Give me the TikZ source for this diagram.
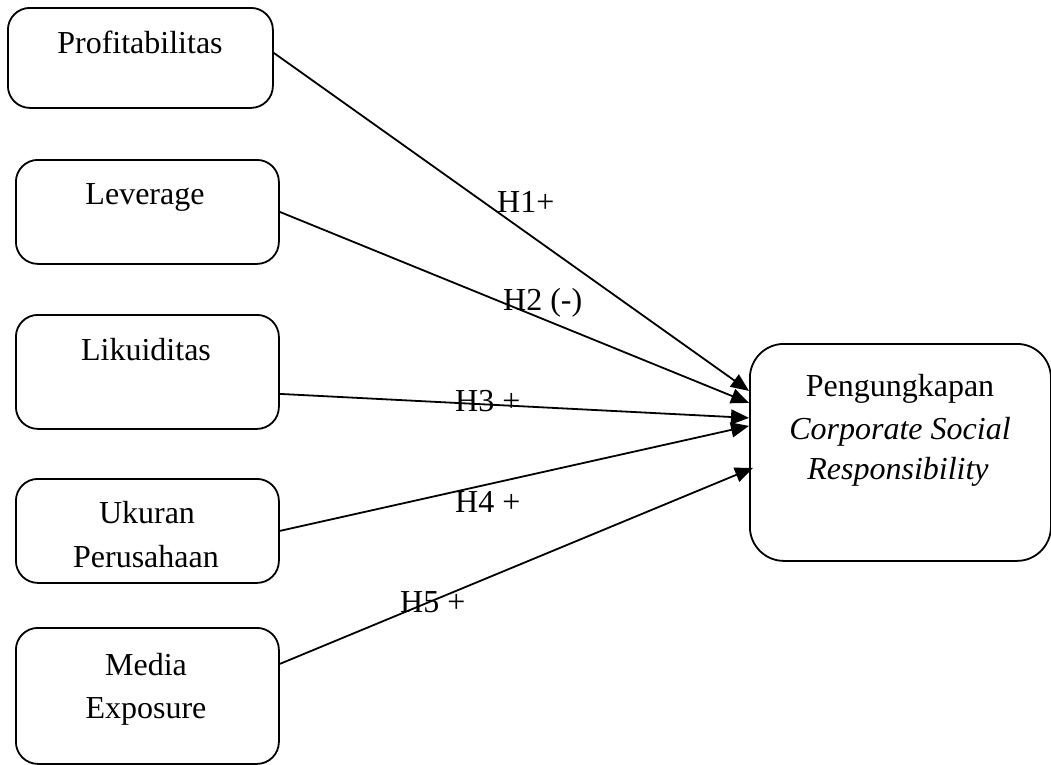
\documentclass[tikz,border=0pt]{standalone}
\usepackage{fontspec}
\setmainfont{Liberation Serif}
\usetikzlibrary{arrows.meta}
\begin{document}
\begin{tikzpicture}[x=1pt,y=-1pt,
  varbox/.style={draw, line width=1.8pt, rounded corners=22pt, anchor=north west, inner sep=0pt},
  txt/.style={anchor=base, inner sep=0pt, font=\fontsize{32}{43}\selectfont},
  hyp/.style={anchor=base west, inner sep=0pt, font=\fontsize{32}{43}\selectfont},
  link/.style={line width=1.8pt, -{Triangle[length=18pt,width=15pt]}}]
\useasboundingbox (0,0) rectangle (1051,764);
% boxes
\node[varbox, minimum width=265pt, minimum height=100pt] (p) at (7,7) {};
\node[varbox, minimum width=263pt, minimum height=104pt] (l) at (15,159) {};
\node[varbox, minimum width=263pt, minimum height=114pt] (k) at (15,314) {};
\node[varbox, minimum width=263pt, minimum height=104pt] (u) at (15,478) {};
\node[varbox, minimum width=263pt, minimum height=136pt] (m) at (15,627) {};
\node[varbox, rounded corners=34pt, minimum width=301pt, minimum height=217pt] (cs) at (749,343) {};
% texts
\node[txt] (pt) at (140,53) {Profitabilitas};
\node[txt] (lt) at (145,204) {Leverage};
\node[txt] (kt) at (146,360) {Likuiditas};
\node[txt] (ut1) at (147,523) {Ukuran};
\node[txt] (ut2) at (146,567) {Perusahaan};
\node[txt] (mt1) at (146,675) {Media};
\node[txt] (mt2) at (146,718) {Exposure};
\node[txt] (cst1) at (900,396) {Pengungkapan};
\node[txt] (cst2) at (900,439) {\itshape Corporate Social};
\node[txt] (cst3) at (898,479) {\itshape Responsibility};
% arrow endpoints
\coordinate (s1) at ([yshift=5pt]p.east);
\coordinate (s3) at ([yshift=-22pt]k.east);
\coordinate (s5) at ([yshift=32pt]m.east);
\coordinate (t1) at ([yshift=61.5pt]cs.west);
\coordinate (t2) at ([yshift=49.5pt]cs.west);
\coordinate (t3) at ([yshift=34.5pt]cs.west);
\coordinate (t4) at ([yshift=26.5pt]cs.west);
\coordinate (t5) at ([xshift=4pt,yshift=-15.5pt]cs.west);
% connectors
\draw[link] (s1) -- (t1);
\draw[link] (l.east) -- (t2);
\draw[link] (s3) -- (t3);
\draw[link] (u.east) -- (t4);
\draw[link] (s5) -- (t5);
% labels
\node[hyp] (h1) at (497,212) {H1+};
\node[hyp] (h2) at (503,310) {H2 (-)};
\node[hyp] (h3) at (455,411) {H3 +};
\node[hyp] (h4) at (455,512) {H4 +};
\node[hyp] (h5) at (400,612) {H5 +};
\end{tikzpicture}
\end{document}
